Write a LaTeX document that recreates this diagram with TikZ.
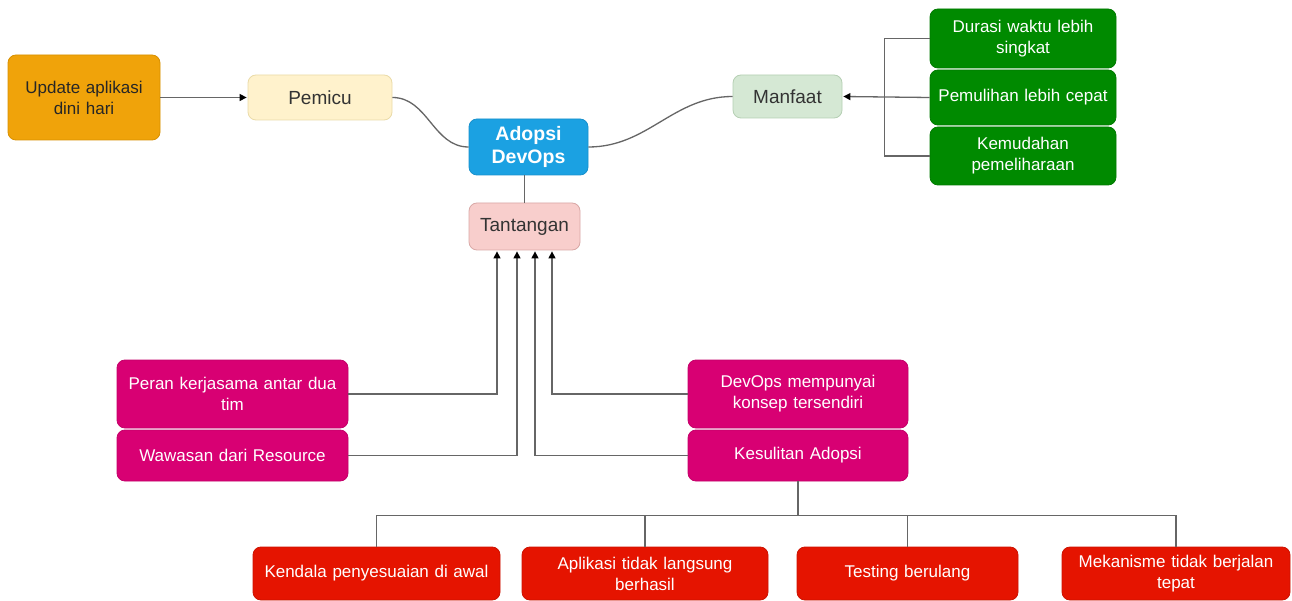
\documentclass[tikz,border=0pt]{standalone}
\usepackage{fontspec}
\setmainfont{Liberation Sans}
\usetikzlibrary{arrows.meta}
\definecolor{orgfill}{HTML}{F0A30A}
\definecolor{orgline}{HTML}{D89000}
\definecolor{yelfill}{HTML}{FFF2CC}
\definecolor{yelline}{HTML}{EADBA8}
\definecolor{bluefill}{HTML}{1BA1E2}
\definecolor{blueline}{HTML}{1890CC}
\definecolor{pinkfill}{HTML}{F8CECC}
\definecolor{pinkline}{HTML}{D9A8A6}
\definecolor{grnfill}{HTML}{D5E8D4}
\definecolor{grnline}{HTML}{B5CFB3}
\definecolor{dgfill}{HTML}{008A00}
\definecolor{dgline}{HTML}{007A00}
\definecolor{magfill}{HTML}{D80073}
\definecolor{magline}{HTML}{C4006A}
\definecolor{redfill}{HTML}{E51400}
\definecolor{redline}{HTML}{CC1200}
\definecolor{conn}{HTML}{666666}
\definecolor{darktext}{HTML}{333333}
\begin{document}
\begin{tikzpicture}[x=1pt,y=-1pt,
  box/.style={rounded corners=8pt, draw, line width=0.8pt, align=center, inner sep=0pt,
    font=\fontsize{17}{21}\selectfont},
  lbl/.style={box, font=\fontsize{19}{23}\selectfont, text=darktext},
  wt/.style={text=white},
  sz/.style n args={2}{minimum width=#1pt, minimum height=#2pt, text width=#1pt-12pt},
  line/.style={draw=conn, line width=1.3pt},
  arr/.style={line, -{Triangle[length=7pt,width=7pt,color=black]}, shorten >=1pt}]
\useasboundingbox (0,0) rectangle (1292,601);
\fill[white] (0,0) rectangle (1292,601);

% top row
\node[box, fill=orgfill, draw=orgline, text=black!85, sz={152}{85}] (upd) at (84,97.5) {Update aplikasi\\dini hari};
\node[lbl, fill=yelfill, draw=yelline, sz={144}{45}] (pem) at (320,97.5) {Pemicu};
\node[box, fill=bluefill, draw=blueline, wt, font=\fontsize{19.5}{23.5}\selectfont\bfseries, sz={119}{56}] (ado) at (528.5,147) {Adopsi\\DevOps};
\node[lbl, fill=pinkfill, draw=pinkline, sz={111}{47}] (tan) at (524.5,226.5) {Tantangan};
\node[lbl, fill=grnfill, draw=grnline, sz={109}{43}] (man) at (787.5,96.5) {Manfaat};

% green boxes
\node[box, fill=dgfill, draw=dgline, wt, sz={186}{59}] (dur) at (1023,38.5) {Durasi waktu lebih\\singkat};
\node[box, fill=dgfill, draw=dgline, wt, sz={186}{55}] (pml) at (1023,97.5) {Pemulihan lebih cepat};
\node[box, fill=dgfill, draw=dgline, wt, sz={186}{58}] (kem) at (1023,156) {Kemudahan\\pemeliharaan};

% magenta boxes
\node[box, fill=magfill, draw=magline, wt, sz={231}{68}] (per) at (232.5,394) {Peran kerjasama antar dua\\tim};
\node[box, fill=magfill, draw=magline, wt, sz={231}{51}] (waw) at (232.5,455.5) {Wawasan dari Resource};
\node[box, fill=magfill, draw=magline, wt, sz={220}{68}] (dev) at (798,394) {DevOps mempunyai\\konsep tersendiri};
\node[box, fill=magfill, draw=magline, wt, sz={220}{51}] (kes) at (798,455.5) {Kesulitan Adopsi};

% red boxes
\node[box, fill=redfill, draw=redline, wt, sz={247}{53}] (ken) at (376.5,573.5) {Kendala penyesuaian di awal};
\node[box, fill=redfill, draw=redline, wt, sz={246}{53}] (apl) at (645,573.5) {Aplikasi tidak langsung\\berhasil};
\node[box, fill=redfill, draw=redline, wt, sz={221}{53}] (tes) at (907.5,573.5) {Testing berulang};
\node[box, fill=redfill, draw=redline, wt, sz={228}{53}] (mek) at (1176,573.5) {Mekanisme tidak berjalan\\tepat};

% connectors
\draw[arr] (upd.east) -- (pem.west);
\draw[line] (pem.east) to[out=0,in=180] (ado.west);
\draw[line] (ado.east) to[out=0,in=180] (man.west);
\draw[line] (tan.north) -- (tan.north |- ado.south);

\draw[arr] (pml.west) -- (man.east);
\draw[line] (dur.west) -- +(-45,0) |- (kem.west);

\draw[arr] (per.east) -| ([xshift=-27.5pt]tan.south);
\draw[arr] (waw.east) -| ([xshift=-7.5pt]tan.south);
\draw[arr] (kes.west) -| ([xshift=10.5pt]tan.south);
\draw[arr] (dev.west) -| ([xshift=27.5pt]tan.south);

\draw[line] (kes.south) -- ++(0,34) coordinate (j);
\draw[line] (ken.north) |- (j) -| (mek.north);
\draw[line] (apl.north) -- (apl.north |- j);
\draw[line] (tes.north) -- (tes.north |- j);
\end{tikzpicture}
\end{document}
